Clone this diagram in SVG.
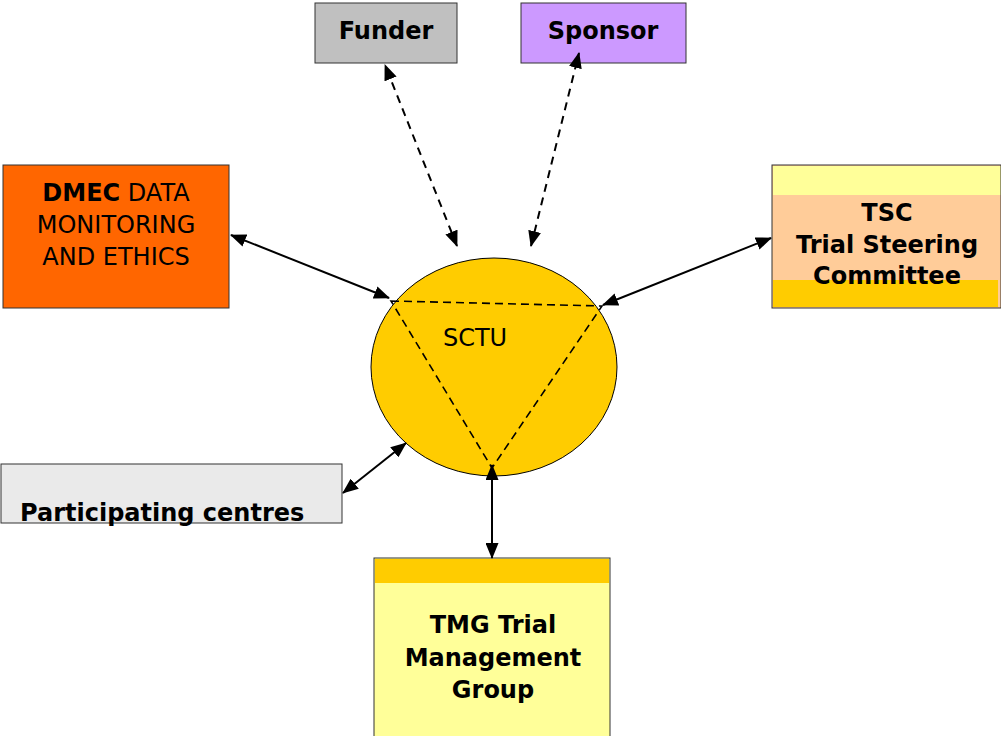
<svg xmlns="http://www.w3.org/2000/svg" width="1001" height="736" viewBox="0 0 1001 736">
<defs>
<marker id="ah" viewBox="0 0 16 13" refX="15" refY="6.5" markerWidth="16" markerHeight="13" markerUnits="userSpaceOnUse" orient="auto-start-reverse">
<path d="M0,0 L16,6.5 L0,13 z" fill="#000"/>
</marker>
<style>
.box{stroke:#333;stroke-width:1}
.t{font-family:"DejaVu Sans",Verdana,sans-serif;font-size:24px;fill:#000}
.b{font-weight:bold}
.c{stroke:#000;stroke-width:2;fill:none}
.d{stroke-dasharray:8,6}
</style>
</defs>
<rect width="1001" height="736" fill="#fff"/>
<g id="sctu">
<ellipse cx="494" cy="367" rx="123" ry="109" fill="#ffcc00" stroke="#000" stroke-width="1"/>
<polygon points="391,301 602,306 492,468" fill="none" stroke="#000" stroke-width="1.6" stroke-dasharray="8,5"/>
<text class="t" x="475" y="346" text-anchor="middle" font-size="26">SCTU</text>
</g>
<g id="funder">
<rect class="box" x="315" y="3" width="142" height="60" fill="#c0c0c0"/>
<text class="t b" x="386" y="39" text-anchor="middle">Funder</text>
</g>
<g id="sponsor">
<rect class="box" x="521" y="3" width="165" height="60" fill="#cc99ff"/>
<text class="t b" x="603" y="39" text-anchor="middle">Sponsor</text>
</g>
<g id="dmec">
<rect class="box" x="3" y="165" width="226" height="143" fill="#ff6600"/>
<text class="t" x="116" y="201" text-anchor="middle"><tspan class="b">DMEC</tspan> DATA</text>
<text class="t" x="116" y="233" text-anchor="middle">MONITORING</text>
<text class="t" x="116" y="265" text-anchor="middle">AND ETHICS</text>
</g>
<g id="tsc">
<rect x="772" y="165" width="229" height="143" fill="#ffcc99"/>
<rect x="773" y="166" width="228" height="29" fill="#ffff99"/>
<rect x="773" y="280" width="225" height="27" fill="#ffcc00"/>
<rect x="772" y="165" width="229" height="143" fill="none" class="box"/>
<text class="t b" x="887" y="221" text-anchor="middle">TSC</text>
<text class="t b" x="887" y="253" text-anchor="middle">Trial Steering</text>
<text class="t b" x="887" y="284" text-anchor="middle">Committee</text>
</g>
<g id="participating">
<rect class="box" x="1" y="464" width="341" height="59" fill="#eaeaea"/>
<text class="t b" x="20" y="521" font-size="23.4">Participating centres</text>
</g>
<g id="tmg">
<rect x="374" y="558" width="236" height="180" fill="#ffff99" class="box"/>
<rect x="375" y="559" width="234" height="24" fill="#ffcc00"/>
<text class="t b" x="493" y="633" text-anchor="middle">TMG Trial</text>
<text class="t b" x="493" y="666" text-anchor="middle">Management</text>
<text class="t b" x="493" y="698" text-anchor="middle">Group</text>
</g>
<g id="connectors">
<line class="c d" x1="457" y1="246" x2="385" y2="65" marker-start="url(#ah)" marker-end="url(#ah)"/>
<line class="c d" x1="531" y1="246" x2="579" y2="53" marker-start="url(#ah)" marker-end="url(#ah)"/>
<line class="c" x1="389" y1="298" x2="231" y2="235" marker-start="url(#ah)" marker-end="url(#ah)"/>
<line class="c" x1="603" y1="305" x2="771" y2="238" marker-start="url(#ah)" marker-end="url(#ah)"/>
<line class="c" x1="406" y1="443" x2="343" y2="493" marker-start="url(#ah)" marker-end="url(#ah)"/>
<line class="c" x1="492" y1="465" x2="492" y2="558" marker-start="url(#ah)" marker-end="url(#ah)"/>
</g>
</svg>
